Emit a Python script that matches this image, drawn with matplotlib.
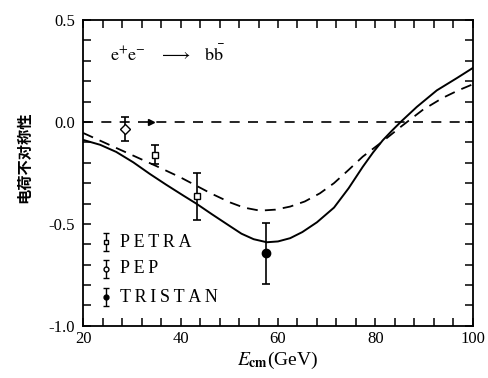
import matplotlib
matplotlib.use("Agg")
import matplotlib.pyplot as plt
from matplotlib.ticker import MultipleLocator, FormatStrFormatter

plt.rcParams["font.family"] = ["Liberation Serif", "DejaVu Serif"]
plt.rcParams["mathtext.fontset"] = "stix"

# theory curves
x_solid = [20, 23.5, 26.8, 30.3, 33.7, 37.0, 40.5, 43.2, 46.4, 50.2, 52.5, 55.0, 57.7,
           60.0, 62.5, 65.0, 68.0, 71.5, 74.5, 77.4, 79.5, 81.5, 83.5, 85.4, 88.5,
           92.6, 96.7, 100]
y_solid = [-0.088, -0.112, -0.147, -0.198, -0.255, -0.307, -0.36, -0.40, -0.452, -0.512,
           -0.548, -0.575, -0.59, -0.586, -0.57, -0.54, -0.492, -0.42, -0.325, -0.22,
           -0.15, -0.09, -0.04, 0.005, 0.074, 0.155, 0.215, 0.265]

x_dash = [20, 25.0, 30.0, 35.0, 40.0, 46.2, 50.2, 53.0, 56.3, 59.5, 62.5, 65.5, 68.6,
          71.5, 74.5, 77.4, 81.5, 85.4, 89.7, 93.8, 97.0, 100]
y_dash = [-0.054, -0.108, -0.162, -0.216, -0.272, -0.35, -0.395, -0.42, -0.435, -0.43,
          -0.415, -0.39, -0.35, -0.30, -0.235, -0.17, -0.095, -0.02, 0.059, 0.118,
          0.155, 0.185]

# data points (PEP, PETRA, TRISTAN)
pep_x, pep_y, pep_err = [28.6], [-0.035], [0.06]
petra_x, petra_y, petra_err = [34.8, 43.4], [-0.16, -0.365], [0.045, 0.115]
tristan_x, tristan_y, tristan_err = [57.6], [-0.645], [0.15]

legend_names = ["P\u2009E\u2009T\u2009R\u2009A", "P\u2009E\u2009P",
                "T\u2009R\u2009I\u2009S\u2009T\u2009A\u2009N"]
legend_y = [-0.59, -0.72, -0.86]
legend_marks = ["s", "o", "o"]
legend_fill = ["white", "white", "black"]

fig = plt.figure(figsize=(4.89, 3.78), dpi=100)
ax = fig.add_axes([0.170, 0.138, 0.797, 0.809])

ax.plot(x_solid, y_solid, color="black", lw=1.4)
ax.plot(x_dash, y_dash, color="black", lw=1.3, dashes=(6, 4))
ax.plot([20, 100], [0, 0], color="black", lw=1.2, dashes=(6, 5))
ax.plot([34], [0], marker=">", color="black", ms=5)

ekw = dict(color="black", capsize=3, elinewidth=1.2, capthick=1.2, lw=0)
ax.errorbar(pep_x, pep_y, yerr=pep_err, marker="D", ms=5, mfc="white", mec="black", **ekw)
ax.errorbar(petra_x, petra_y, yerr=petra_err, marker="s", ms=5, mfc="white", mec="black", **ekw)
ax.errorbar(tristan_x, tristan_y, yerr=tristan_err, marker="o", ms=6, mfc="black", mec="black", **ekw)

for name, yy, mk, fc in zip(legend_names, legend_y, legend_marks, legend_fill):
    ax.errorbar([24.6], [yy], yerr=[0.045], marker=mk, ms=3.5, mfc=fc, mec="black",
                color="black", capsize=2, elinewidth=1, capthick=1, lw=0)
    ax.text(27.5, yy, name, fontsize=13, va="center", ha="left")

ax.text(25.5, 0.33, r"$\mathrm{e^{+}e^{-}}\quad\longrightarrow\quad\mathrm{b\bar{b}}$",
        fontsize=13, va="center", ha="left")

ax.set_xlim(20, 100)
ax.set_ylim(-1.0, 0.5)
ax.xaxis.set_major_locator(MultipleLocator(20))
ax.xaxis.set_minor_locator(MultipleLocator(4))
ax.yaxis.set_major_locator(MultipleLocator(0.5))
ax.yaxis.set_minor_locator(MultipleLocator(0.1))
ax.yaxis.set_major_formatter(FormatStrFormatter("%.1f"))
ax.tick_params(which="both", direction="in", top=True, right=True, width=1.1, labelsize=12)
ax.tick_params(which="major", length=6)
ax.tick_params(which="minor", length=6)
ax.tick_params(axis="y", pad=6)
for s in ax.spines.values():
    s.set_linewidth(1.3)

ax.set_xlabel(r"$E_{\mathbf{cm}}$(GeV)", fontsize=14, labelpad=2)
ax.text(-0.15, 0.55, "电荷不对称性", transform=ax.transAxes, rotation=90,
        fontsize=11, fontweight="bold", va="center", ha="center",
        family=["Noto Sans CJK SC", "DejaVu Sans"])

fig.savefig("out.png", dpi=100)
